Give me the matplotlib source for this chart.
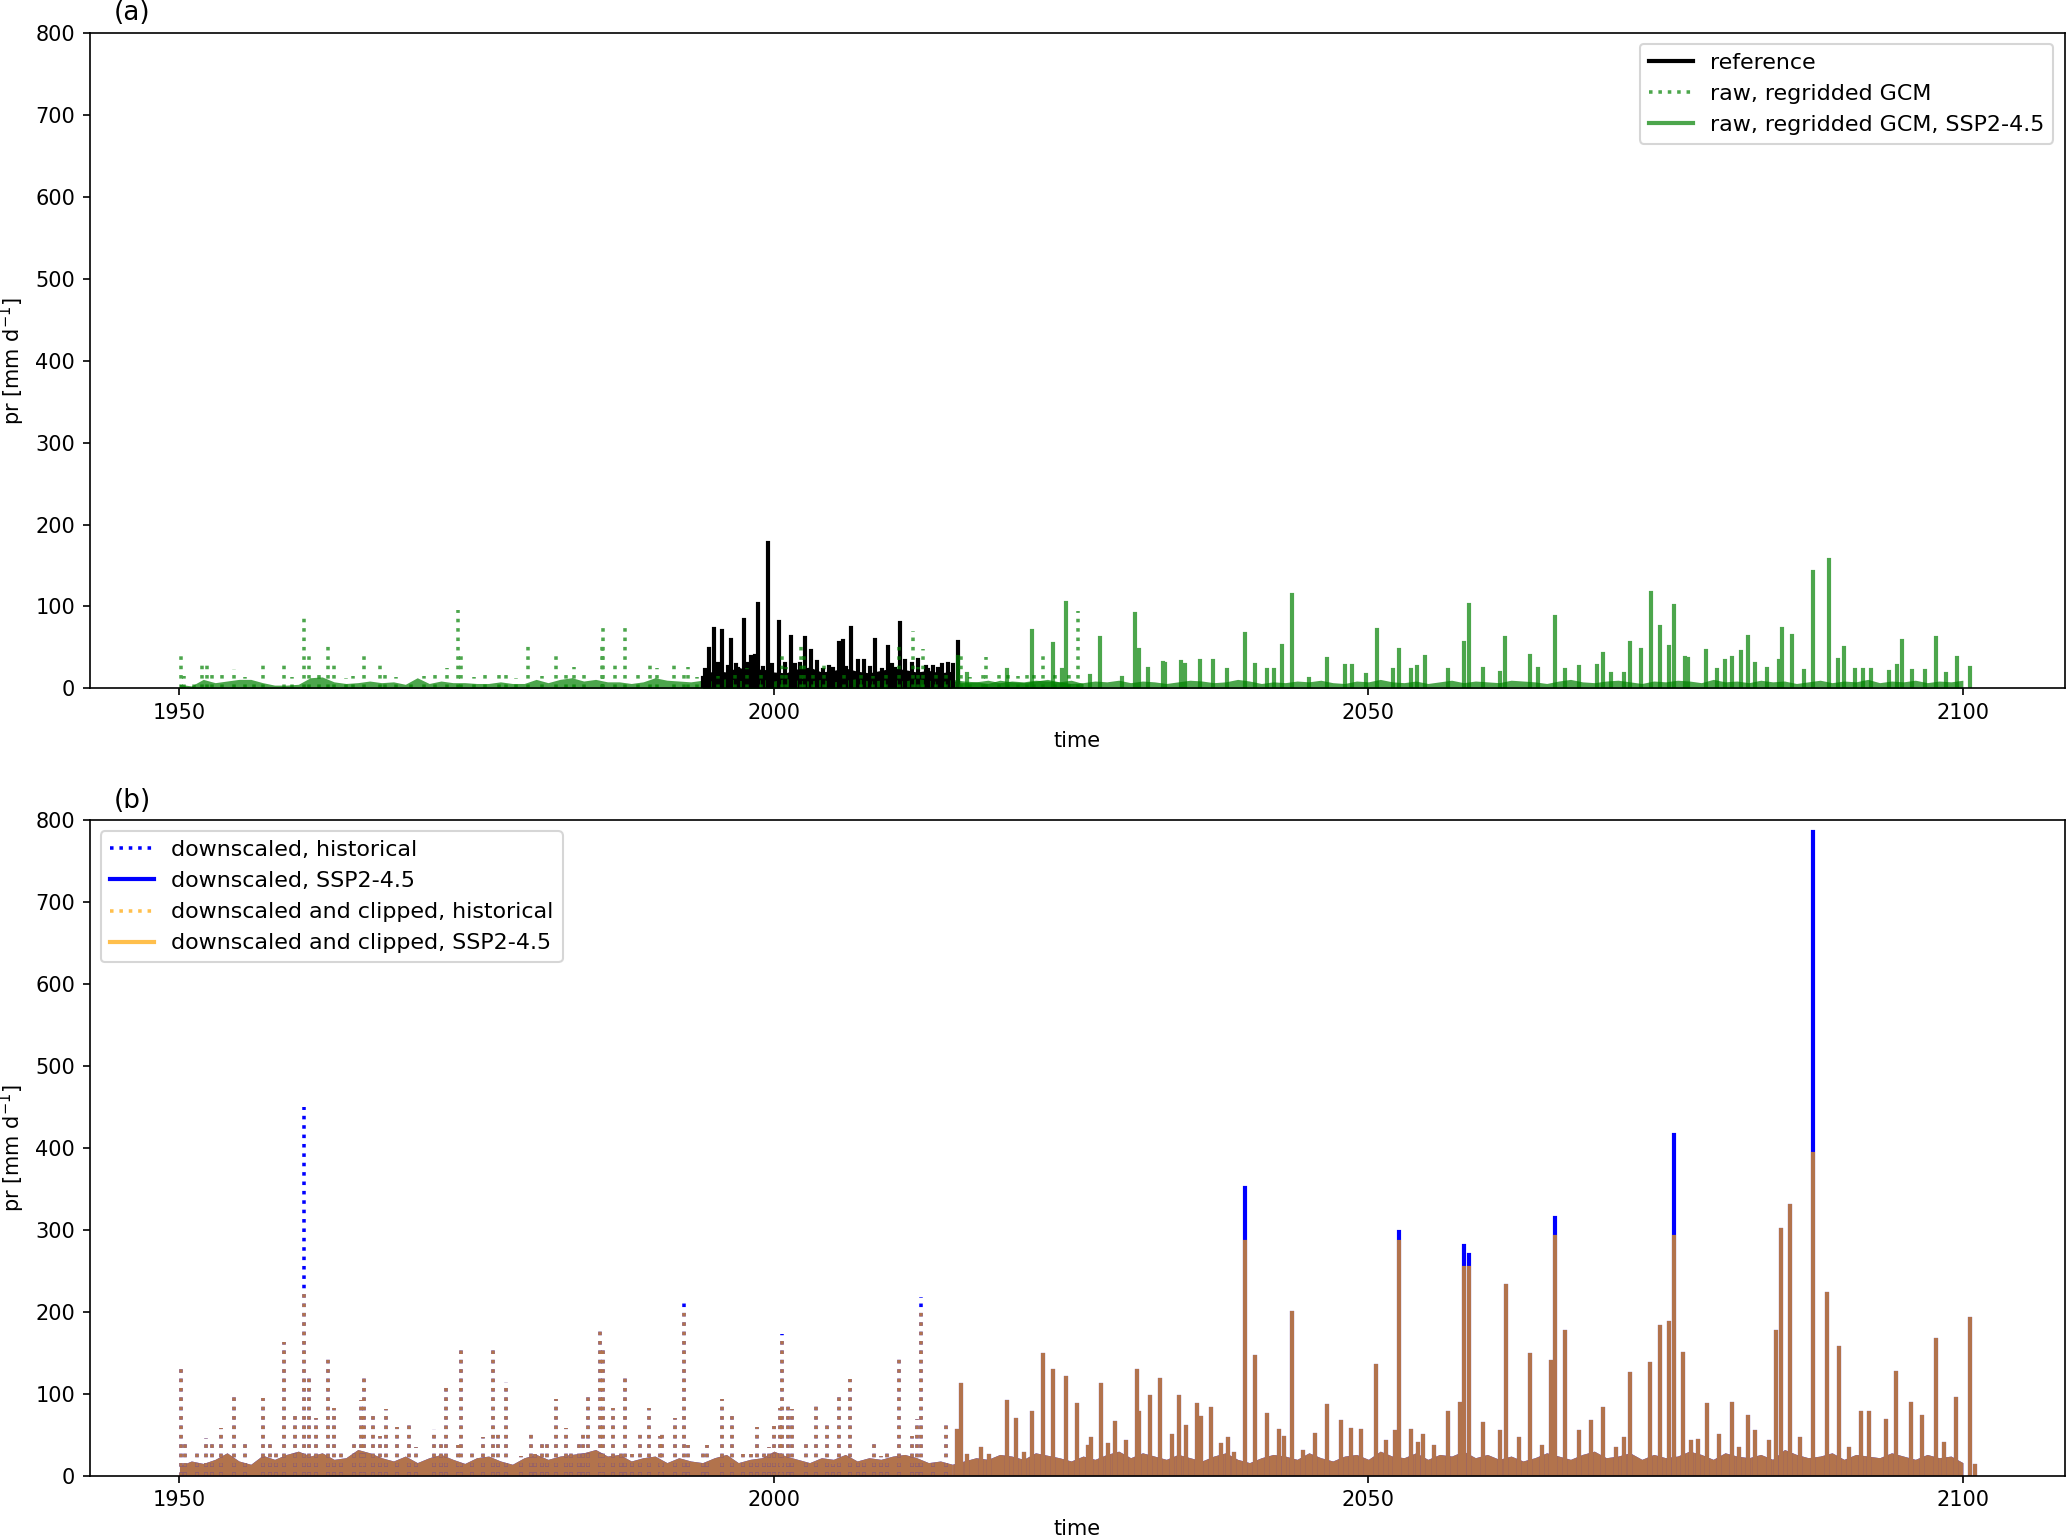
import numpy as np
import matplotlib.pyplot as plt

plt.rcParams['font.size'] = 10

# ---- panel (a): reference and raw, regridded GCM (pr, mm/d) ----
# main daily spikes (decimal year, value)
ref_years = [1994.0, 1994.2, 1994.5, 1995.0, 1995.3, 1995.6, 1996.1, 1996.4, 1996.8, 1997.0,
             1997.5, 1997.8, 1998.1, 1998.4, 1998.7, 1999.1, 1999.5, 1999.8, 2000.4, 2000.9,
             2001.4, 2001.8, 2002.2, 2002.6, 2003.1, 2003.6, 2004.1, 2004.6, 2005.0, 2005.5,
             2005.8, 2006.1, 2006.5, 2007.1, 2007.6, 2008.1, 2008.5, 2009.1, 2009.6, 2009.9,
             2010.2, 2010.6, 2011.0, 2011.6, 2012.1, 2012.8, 2013.0, 2013.4, 2013.8, 2014.1,
             2014.6, 2015.1, 2015.5]
ref_vals = [13, 22, 48, 73, 30, 70, 26, 59, 28, 24,
            83, 30, 38, 39, 103, 25, 178, 28, 81, 30,
            63, 28, 30, 62, 46, 32, 22, 26, 24, 56,
            58, 25, 74, 34, 34, 25, 59, 22, 50, 28,
            24, 80, 34, 30, 35, 26, 22, 26, 24, 29,
            30, 29, 57]

gcm_hist_years = [1950.1, 1950.4, 1951.2, 1951.9, 1952.3, 1952.7, 1953.6, 1954.6, 1955.5, 1956.3,
                  1957.0, 1958.8, 1959.5, 1960.5, 1960.9, 1961.7, 1962.5, 1963.0, 1964.0, 1964.6,
                  1965.5, 1966.9, 1967.3, 1968.2, 1969.5, 1970.6, 1971.5, 1972.5, 1973.4, 1973.7,
                  1974.8, 1975.7, 1976.9, 1977.5, 1978.3, 1979.3, 1980.5, 1981.7, 1982.5, 1983.2,
                  1984.0, 1985.5, 1985.6, 1986.6, 1987.5, 1988.6, 1989.6, 1990.2, 1991.6, 1992.4,
                  1992.8, 1993.5, 1995.3, 1996.7, 1997.7, 1998.9, 2000.7, 2001.0, 2002.3, 2002.5,
                  2003.3, 2004.2, 2005.9, 2007.3, 2008.3, 2009.4, 2010.5, 2011.7, 2012.1, 2012.5,
                  2013.6, 2014.5, 2015.7, 2016.5, 2017.6, 2017.8, 2018.9, 2019.7, 2020.5, 2021.3,
                  2021.9, 2022.6, 2023.6, 2024.8, 2025.6]
gcm_hist_vals = [42, 15, 12, 35, 32, 22, 22, 24, 14, 12,
                 35, 34, 14, 86, 41, 16, 54, 30, 13, 15,
                 45, 28, 18, 14, 12, 15, 22, 25, 96, 41,
                 14, 16, 22, 21, 13, 54, 15, 39, 16, 26,
                 19, 57, 74, 31, 74, 16, 33, 25, 33, 19,
                 26, 14, 15, 22, 25, 16, 43, 26, 52, 42,
                 18, 35, 16, 18, 15, 20, 58, 70, 26, 48,
                 16, 18, 40, 14, 22, 38, 20, 22, 15, 22,
                 20, 45, 16, 20, 94]

gcm_ssp_years = [2015.5, 2016.2, 2019.6, 2021.7, 2023.5, 2024.2, 2024.6, 2026.6, 2027.4, 2029.3,
                 2030.4, 2030.7, 2031.5, 2032.7, 2032.9, 2034.2, 2034.6, 2035.8, 2036.9, 2038.1,
                 2039.6, 2040.5, 2041.5, 2042.1, 2042.7, 2043.6, 2045.0, 2046.5, 2048.0, 2048.6,
                 2049.8, 2050.7, 2052.1, 2052.6, 2053.6, 2054.1, 2054.8, 2056.7, 2058.0, 2058.5,
                 2059.6, 2061.1, 2061.5, 2063.6, 2064.3, 2065.7, 2066.5, 2067.7, 2069.2, 2069.7,
                 2070.4, 2071.5, 2072.0, 2072.9, 2073.8, 2074.5, 2075.3, 2075.7, 2076.6, 2076.9,
                 2078.4, 2079.3, 2080.0, 2080.6, 2081.3, 2081.9, 2082.5, 2083.5, 2084.5, 2084.8,
                 2085.6, 2086.6, 2087.4, 2088.7, 2089.5, 2090.0, 2090.9, 2091.6, 2092.3, 2093.8,
                 2094.5, 2094.9, 2095.7, 2096.8, 2097.7, 2098.6, 2099.5, 2100.6]
gcm_ssp_vals = [38, 18, 23, 70, 54, 23, 104, 15, 61, 13,
                91, 47, 24, 31, 30, 32, 29, 33, 34, 22,
                66, 29, 22, 22, 52, 114, 11, 36, 27, 27,
                16, 71, 23, 47, 23, 26, 38, 22, 55, 102,
                24, 19, 62, 40, 24, 87, 22, 26, 27, 42,
                17, 18, 55, 47, 117, 75, 50, 101, 37, 36,
                46, 22, 33, 37, 44, 63, 30, 24, 33, 73,
                64, 21, 142, 157, 35, 49, 23, 22, 22, 20,
                27, 58, 21, 21, 62, 17, 37, 25]

# typical everyday level (one value per year) forming the dense band near zero
ref_bg_start = 1994
ref_bg = [16, 22, 20, 26, 21, 24, 20, 19, 24, 26, 20, 22, 25, 21, 19, 22, 25, 23, 20, 22, 19, 21]
gcm_hist_bg_start = 1950
gcm_hist_bg = [5, 3, 11, 7, 9, 11, 11, 7, 4, 4, 5, 13, 14, 8, 6, 7, 9, 7, 8, 5,
               13, 6, 9, 7, 7, 6, 6, 8, 6, 6, 11, 7, 11, 13, 9, 11, 8, 8, 6, 8,
               13, 10, 9, 8, 10, 9, 12, 10, 8, 11, 9, 12, 10, 9, 11, 8, 10, 12, 9, 10,
               11, 9, 12, 10, 8, 11, 9, 8, 10, 7, 9, 8, 10, 9, 8, 10, 6]
gcm_ssp_bg_start = 2015
gcm_ssp_bg = [9, 7, 8, 6, 10, 8, 7, 9, 11, 8, 6, 7, 9, 8, 10, 7, 9, 8, 6, 8,
              10, 9, 7, 8, 11, 9, 6, 8, 7, 9, 8, 10, 7, 6, 9, 8, 11, 8, 7, 9,
              6, 8, 10, 7, 9, 8, 7, 10, 9, 8, 6, 9, 11, 8, 7, 9, 10, 8, 6, 9,
              8, 10, 9, 7, 11, 8, 9, 7, 10, 8, 9, 6, 8, 10, 7, 9, 8, 11, 7, 9,
              8, 10, 7, 9, 8, 10]

# ---- panel (b): downscaled and downscaled + clipped ----
ds_hist_years = [1950.1, 1950.5, 1951.5, 1952.2, 1952.7, 1953.5, 1954.6, 1955.5, 1957.0, 1957.6,
                 1958.1, 1958.8, 1959.7, 1960.5, 1960.9, 1961.5, 1962.5, 1963.0, 1963.6, 1964.7,
                 1965.3, 1965.5, 1966.3, 1966.9, 1967.4, 1968.3, 1969.3, 1969.9, 1971.4, 1972.0,
                 1972.4, 1973.4, 1973.7, 1974.6, 1975.5, 1976.4, 1976.8, 1977.5, 1978.7, 1979.6,
                 1979.9, 1980.5, 1980.9, 1981.7, 1982.5, 1982.9, 1983.6, 1983.9, 1984.4, 1985.4,
                 1985.6, 1986.5, 1987.1, 1987.5, 1988.1, 1988.7, 1989.5, 1990.4, 1990.6, 1991.7,
                 1992.4, 1992.8, 1994.0, 1994.4, 1995.6, 1996.5, 1997.4, 1998.1, 1998.6, 1999.2,
                 1999.6, 2000.0, 2000.5, 2000.7, 2001.2, 2001.5, 2002.7, 2003.5, 2004.5, 2005.0,
                 2005.5, 2006.4, 2007.1, 2007.6, 2008.4, 2009.0, 2009.5, 2010.5, 2011.6, 2012.0,
                 2012.4, 2013.4, 2014.5]
ds_hist_vals = [133, 42, 33, 46, 45, 58, 98, 44, 95, 43,
                33, 163, 73, 450, 122, 70, 145, 83, 33, 41,
                92, 122, 77, 49, 82, 59, 65, 35, 57, 43,
                111, 37, 153, 31, 47, 153, 55, 115, 24, 55,
                26, 39, 39, 94, 58, 33, 45, 52, 97, 180,
                157, 83, 28, 120, 26, 51, 83, 49, 52, 71,
                211, 37, 31, 38, 94, 73, 26, 26, 59, 28,
                35, 61, 83, 173, 89, 81, 39, 89, 66, 14,
                98, 118, 22, 16, 44, 24, 28, 149, 49, 69,
                218, 22, 65]
clip_hist_vals = [133, 42, 33, 46, 45, 58, 98, 44, 95, 43,
                  33, 163, 73, 224, 122, 70, 145, 83, 33, 41,
                  92, 122, 77, 49, 82, 59, 65, 35, 57, 43,
                  111, 37, 153, 31, 47, 153, 55, 115, 24, 55,
                  26, 39, 39, 94, 58, 33, 45, 52, 97, 180,
                  157, 83, 28, 120, 26, 51, 83, 49, 52, 71,
                  200, 37, 31, 38, 94, 73, 26, 26, 59, 28,
                  35, 61, 83, 168, 89, 81, 39, 89, 66, 14,
                  98, 118, 22, 16, 44, 24, 28, 149, 49, 69,
                  205, 22, 65]

ds_ssp_years = [2015.4, 2015.7, 2016.2, 2017.4, 2018.1, 2019.6, 2020.4, 2021.0, 2021.7, 2022.6,
                2023.5, 2024.6, 2025.5, 2026.4, 2026.7, 2027.5, 2028.1, 2028.7, 2029.6, 2030.5,
                2030.7, 2031.6, 2032.5, 2033.5, 2034.1, 2034.7, 2035.6, 2035.9, 2036.8, 2037.6,
                2038.2, 2038.7, 2039.6, 2040.5, 2041.5, 2042.5, 2042.9, 2043.6, 2044.5, 2045.5,
                2046.5, 2047.7, 2048.5, 2049.4, 2050.6, 2051.5, 2052.2, 2052.6, 2053.6, 2054.2,
                2054.6, 2055.5, 2056.7, 2057.7, 2058.0, 2058.5, 2059.6, 2061.1, 2061.6, 2062.7,
                2063.6, 2064.6, 2065.4, 2065.7, 2066.5, 2067.7, 2068.7, 2069.7, 2070.8, 2071.5,
                2072.0, 2073.7, 2074.5, 2075.3, 2075.7, 2076.5, 2077.1, 2077.7, 2078.5, 2079.5,
                2080.6, 2081.2, 2081.9, 2082.5, 2083.7, 2084.3, 2084.7, 2085.5, 2086.3, 2087.4,
                2088.6, 2089.6, 2090.4, 2091.4, 2092.1, 2093.5, 2094.4, 2095.6, 2096.6, 2097.7,
                2098.4, 2099.4, 2100.6, 2101.0]
ds_ssp_vals = [55, 111, 24, 33, 24, 90, 68, 26, 76, 147,
               128, 119, 86, 35, 45, 111, 37, 64, 41, 128,
               76, 96, 117, 48, 96, 60, 86, 71, 81, 37,
               45, 27, 351, 145, 74, 55, 46, 199, 29, 50,
               85, 65, 56, 55, 134, 41, 54, 298, 55, 39,
               49, 35, 77, 88, 281, 270, 63, 54, 232, 45,
               147, 35, 139, 314, 175, 54, 65, 81, 33, 45,
               124, 136, 182, 186, 416, 149, 41, 43, 86, 49,
               87, 33, 72, 53, 41, 176, 300, 329, 45, 786,
               222, 156, 33, 76, 77, 67, 125, 88, 72, 166,
               39, 94, 191, 12]
clip_ssp_vals = [55, 111, 24, 33, 24, 90, 68, 26, 76, 147,
                 128, 119, 86, 35, 45, 111, 37, 64, 41, 128,
                 76, 96, 117, 48, 96, 60, 86, 71, 81, 37,
                 45, 27, 285, 145, 74, 55, 46, 199, 29, 50,
                 85, 65, 56, 55, 134, 41, 54, 285, 55, 39,
                 49, 35, 77, 88, 254, 254, 63, 54, 232, 45,
                 147, 35, 139, 292, 175, 54, 65, 81, 33, 45,
                 124, 136, 182, 186, 292, 149, 41, 43, 86, 49,
                 87, 33, 72, 53, 41, 176, 300, 329, 45, 393,
                 222, 156, 33, 76, 77, 67, 125, 88, 72, 166,
                 39, 94, 191, 12]

ds_hist_bg_start = 1950
ds_hist_bg = [12, 18, 15, 20, 28, 18, 14, 25, 20, 26, 30, 24, 28, 20, 22, 32, 28, 22, 18, 24,
              16, 22, 26, 20, 15, 22, 24, 18, 14, 22, 26, 20, 24, 26, 28, 32, 24, 26, 18, 22,
              24, 16, 22, 18, 16, 22, 26, 16, 20, 22, 30, 24, 20, 16, 22, 20, 26, 18, 22, 20,
              24, 26, 22, 16, 18, 14]
ds_ssp_bg_start = 2015
ds_ssp_bg = [14, 18, 22, 20, 26, 24, 20, 28, 25, 22, 18, 24, 20, 26, 30, 22, 28, 24, 20, 26,
             22, 18, 24, 28, 20, 16, 22, 26, 24, 20, 28, 22, 18, 24, 26, 20, 30, 24, 22, 28,
             20, 26, 24, 30, 22, 26, 20, 24, 18, 22, 28, 24, 20, 26, 30, 22, 24, 28, 20, 26,
             22, 24, 30, 26, 20, 28, 24, 22, 26, 20, 32, 26, 22, 24, 28, 20, 26, 24, 22, 28,
             24, 20, 26, 22, 24, 16]

LW = 2.0      # solid spikes
LW_DOT = 1.7  # dotted spikes


def spikes(years, vals):
    # every daily value as a vertical stroke from 0
    t = np.asarray(years, float)
    v = np.asarray(vals, float)
    nan = np.full_like(t, np.nan)
    x = np.column_stack([t, t, nan]).ravel()
    y = np.column_stack([np.zeros_like(v), v, nan]).ravel()
    return x, y


def band(ax, start, levels, color, alpha=1.0):
    t = start + np.arange(len(levels))
    ax.fill_between(t, 0, levels, color=color, alpha=alpha, lw=0)


fig = plt.figure(figsize=(13.78, 10.26), dpi=150)
ax1 = fig.add_axes([0.0434, 0.5527, 0.9554, 0.4259])
ax2 = fig.add_axes([0.0434, 0.0411, 0.9554, 0.4259])

# (a)
band(ax1, ref_bg_start, ref_bg, 'black')
ax1.plot(*spikes(ref_years, ref_vals), color='black', lw=LW, label='reference')
band(ax1, gcm_hist_bg_start, gcm_hist_bg, 'green', 0.7)
ax1.plot(*spikes(gcm_hist_years, gcm_hist_vals), color='green', ls=':', lw=LW_DOT, alpha=0.7,
         label='raw, regridded GCM')
band(ax1, gcm_ssp_bg_start, gcm_ssp_bg, 'green', 0.7)
ax1.plot(*spikes(gcm_ssp_years, gcm_ssp_vals), color='green', lw=LW, alpha=0.7,
         label='raw, regridded GCM, SSP2-4.5')
ax1.legend(loc='upper right', fontsize=10.6)
ax1.set_title('(a)', loc='left', x=0.012, fontsize=12.7)

# (b)
band(ax2, ds_hist_bg_start, ds_hist_bg, 'blue')
ax2.plot(*spikes(ds_hist_years, ds_hist_vals), color='blue', ls=':', lw=LW_DOT,
         label='downscaled, historical')
band(ax2, ds_ssp_bg_start, ds_ssp_bg, 'blue')
ax2.plot(*spikes(ds_ssp_years, ds_ssp_vals), color='blue', lw=LW,
         label='downscaled, SSP2-4.5')
band(ax2, ds_hist_bg_start, ds_hist_bg, 'orange', 0.7)
ax2.plot(*spikes(ds_hist_years, clip_hist_vals), color='orange', ls=':', lw=LW_DOT, alpha=0.7,
         label='downscaled and clipped, historical')
band(ax2, ds_ssp_bg_start, ds_ssp_bg, 'orange', 0.7)
ax2.plot(*spikes(ds_ssp_years, clip_ssp_vals), color='orange', lw=LW, alpha=0.7,
         label='downscaled and clipped, SSP2-4.5')
ax2.legend(loc='upper left', fontsize=10.6)
ax2.set_title('(b)', loc='left', x=0.012, fontsize=12.7)

for ax in (ax1, ax2):
    ax.set_xlim(1942.45, 2108.55)
    ax.set_ylim(0, 800)
    ax.set_xticks([1950, 2000, 2050, 2100])
    ax.set_yticks(range(0, 801, 100))
    ax.set_xlabel('time')
    ax.set_ylabel('pr [mm d$^{-1}$]')

fig.savefig('out.png', dpi=150)
